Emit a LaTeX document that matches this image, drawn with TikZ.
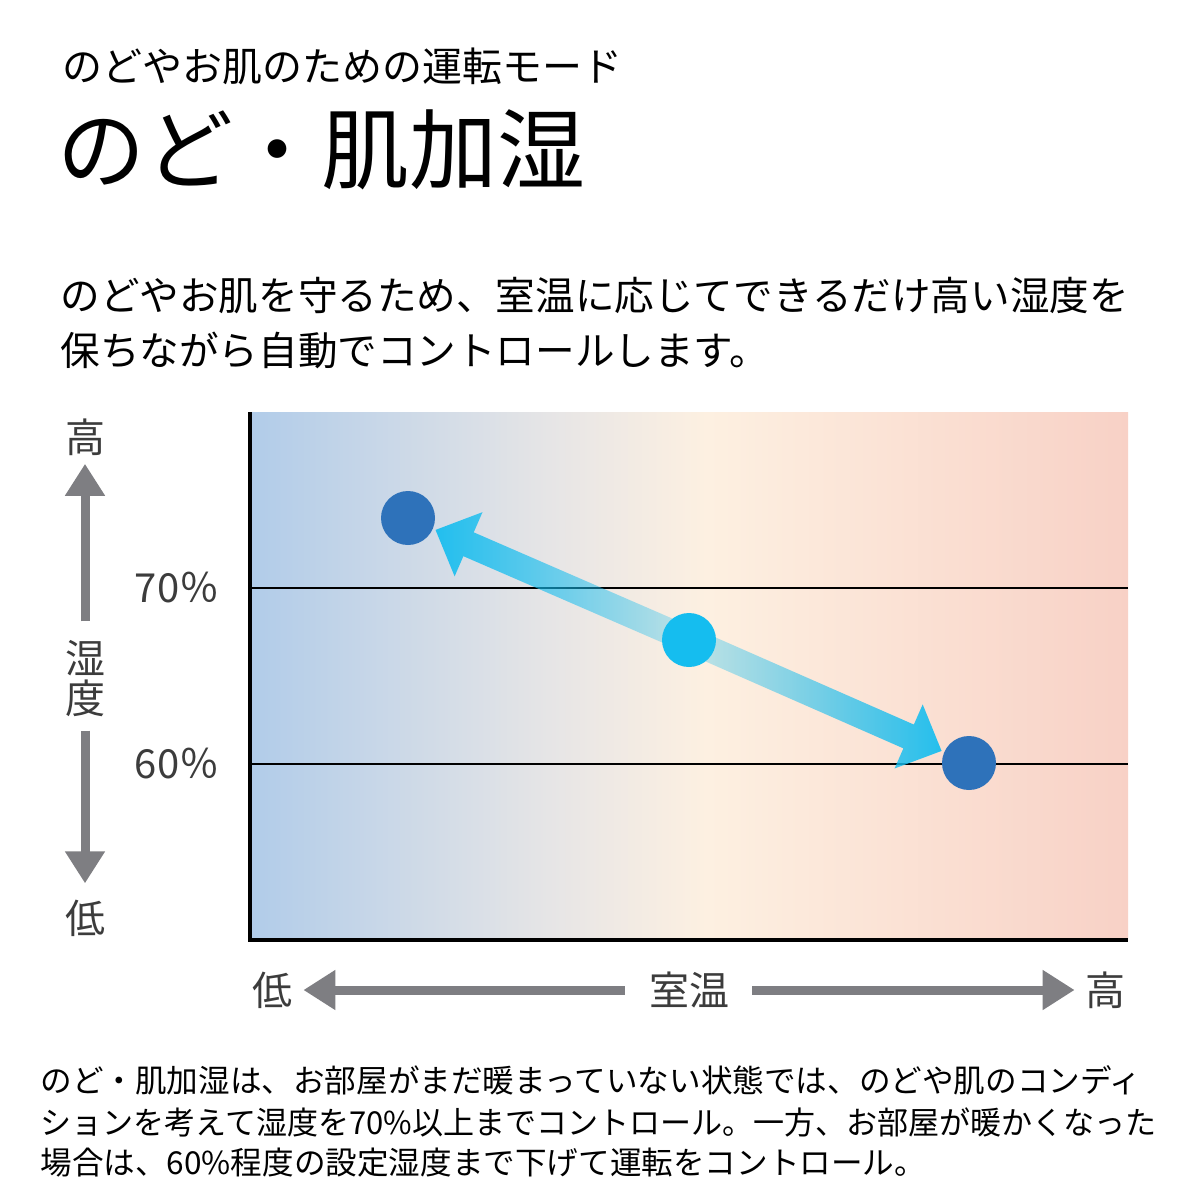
\documentclass[tikz,border=0pt]{standalone}
\usepackage{fontspec}
\setmainfont{Noto Sans CJK JP}
\usetikzlibrary{calc,arrows.meta,fadings}

\definecolor{bgblue}{HTML}{B1CCE9}
\definecolor{bggrey}{HTML}{E6E5E6}
\definecolor{bgcream}{HTML}{FDF0E1}
\definecolor{bgpink}{HTML}{F8D1C6}
\definecolor{dotblue}{HTML}{2E72BA}
\definecolor{dotcyan}{HTML}{15BDEF}
\definecolor{axisgrey}{HTML}{7E7E82}
\definecolor{labelgrey}{HTML}{3C3C3C}

\pgfdeclarehorizontalshading{roomtemp}{100bp}{color(0bp)=(bgblue); color(25bp)=(bgblue); color(42bp)=(bggrey); color(51bp)=(bgcream); color(75bp)=(bgpink); color(100bp)=(bgpink)}
\pgfdeclarehorizontalshading{fadeleftshade}{100bp}{color(0bp)=(pgftransparent!0); color(20bp)=(pgftransparent!0); color(55bp)=(pgftransparent!50); color(86bp)=(pgftransparent!90); color(100bp)=(pgftransparent!100)}
\pgfdeclarehorizontalshading{faderightshade}{100bp}{color(0bp)=(pgftransparent!100); color(14bp)=(pgftransparent!90); color(45bp)=(pgftransparent!50); color(80bp)=(pgftransparent!0); color(100bp)=(pgftransparent!0)}
\pgfdeclarefading{fadeleft}{\pgfuseshading{fadeleftshade}}
\pgfdeclarefading{faderight}{\pgfuseshading{faderightshade}}

\tikzset{
  body/.style={anchor=west, inner sep=0pt, font=\fontsize{19.8}{24}\selectfont},
  note/.style={anchor=west, inner sep=0pt, font=\fontsize{15.8}{19}\selectfont},
  axislabel/.style={inner sep=0pt, text=labelgrey, font=\fontsize{20}{20}\selectfont},
  axisarrow/.style={draw=axisgrey, line width=4.5pt, -{Triangle[width=19pt,length=16pt]}},
  humdot/.style={circle, inner sep=0pt, minimum size=27pt},
  gridline/.style={line width=1.4pt}
}

\begin{document}
\begin{tikzpicture}[x=0.5pt, y=-0.5pt]
  \useasboundingbox (0,0) rectangle (1200,1200);
  \fill[white] (0,0) rectangle (1200,1200);

  \node[anchor=west, inner sep=0pt, font=\fontsize{20}{24}\selectfont] (mode) at (62,66) {のどやお肌のための運転モード};
  \node[anchor=west, inner sep=0pt, font=\fontsize{44}{50}\selectfont] (title) at (57,150) {のど・肌加湿};
  \node[body] (intro1) at (60,296) {のどやお肌を守るため、室温に応じてできるだけ高い湿度を};
  \node[body] (intro2) at (60,350) {保ちながら自動でコントロールします。};

  % chart
  \shade[shading=roomtemp] (250,412) rectangle (1128,940);
  \draw[gridline] (250,588) -- (1128,588);
  \draw[gridline] (250,764) -- (1128,764);
  \draw[line width=2pt] (250,412) -- (250,940) -- (1128,940);

  % humidity axis
  \node[axislabel] (hhigh) at (85,437) {高};
  \node[axislabel, align=center] (hum) at (85,679) {湿\\度};
  \node[axislabel] (hlow) at (85,918) {低};
  \draw[axisarrow, shorten <=9.5pt, shorten >=4pt] (hum) -- (hhigh);
  \draw[axisarrow, shorten <=6.5pt, shorten >=8pt] (hum) -- (hlow);
  \node[axislabel] (p70) at (177,588) {70％};
  \node[axislabel] (p60) at (177,764) {60％};

  % room temperature axis
  \node[axislabel] (tlow) at (272,990) {低};
  \node[axislabel] (temp) at (689,990) {室温};
  \node[axislabel] (thigh) at (1105,990) {高};
  \draw[axisarrow, shorten <=12pt, shorten >=5.5pt] (temp) -- (tlow);
  \draw[axisarrow, shorten <=11.5pt, shorten >=5pt] (temp) -- (thigh);

  % control points
  \node[humdot, fill=dotblue] (hi) at (408,518) {};
  \node[humdot, fill=dotcyan] (mid) at (689,640) {};
  \node[humdot, fill=dotblue] (lo) at (969,763) {};
  \coordinate (tipA) at ($(hi)!15pt!(mid)$);
  \coordinate (tipB) at ($(lo)!15pt!(mid)$);
  \foreach \tip/\fade in {tipA/fadeleft, tipB/faderight}{
    \coordinate (base) at ($(\tip)!18pt!(mid)$);
    \fill[dotcyan, path fading=\fade]
      ($(mid)!6.5pt!90:(\tip)$) -- ($(base)!6.5pt!-90:(mid)$) -- ($(base)!17.5pt!-90:(mid)$)
      -- (\tip) -- ($(base)!17.5pt!90:(mid)$) -- ($(base)!6.5pt!90:(mid)$)
      -- ($(mid)!6.5pt!-90:(\tip)$) -- cycle;
  }

  \node[note] (text1) at (40,1080) {のど・肌加湿は、お部屋がまだ暖まっていない状態では、のどや肌のコンディ};
  \node[note] (text2) at (40,1122) {\scalebox{0.982}[1]{ションを考えて湿度を70\%以上までコントロール。一方、お部屋が暖かくなった}};
  \node[note] (text3) at (40,1163) {場合は、60\%程度の設定湿度まで下げて運転をコントロール。};
\end{tikzpicture}
\end{document}
